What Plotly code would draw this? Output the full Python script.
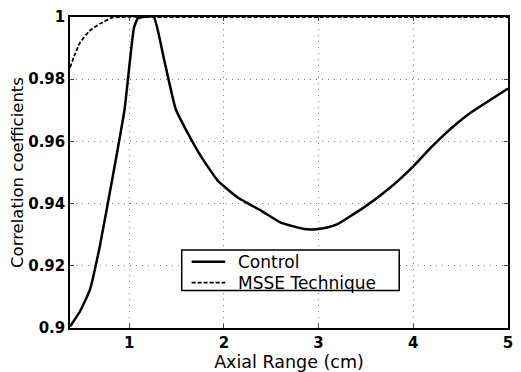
import plotly.graph_objects as go

# Correlation coefficient versus axial range
control_x = [0.375, 0.42, 0.48, 0.584, 0.688, 0.824, 0.95, 1.05, 1.09, 1.15, 1.26,
             1.368, 1.49, 1.63, 1.77, 1.94, 2.15, 2.40, 2.60, 2.85, 2.95, 3.09,
             3.20, 3.475, 3.75, 4.0, 4.17, 4.31, 4.45, 4.59, 5.0]
control_y = [0.9005, 0.9025, 0.9053, 0.9122, 0.926, 0.9483, 0.970, 0.9965, 0.9995, 1.0, 1.0,
             0.9864, 0.9705, 0.962, 0.9546, 0.9472, 0.9419, 0.9376, 0.9339, 0.9318, 0.9317, 0.9323,
             0.9334, 0.9387, 0.945, 0.952, 0.9575, 0.9617, 0.9655, 0.9689, 0.977]

msse_x = [0.375, 0.42, 0.48, 0.58, 0.69, 0.82, 0.95, 1.2, 2.0, 3.0, 4.0, 5.0]
msse_y = [0.9837, 0.9875, 0.9917, 0.9955, 0.9978, 0.9998, 1.0, 1.0, 1.0, 1.0, 1.0, 1.0]

x_ticks = [1, 2, 3, 4, 5]
y_ticks = [0.9, 0.92, 0.94, 0.96, 0.98, 1.0]
y_tick_text = ["0.9", "0.92", "0.94", "0.96", "0.98", "1"]

series_names = ["Control", "MSSE Technique"]

FAMILY = "DejaVu Sans, Verdana, sans-serif"
W, H = 521, 372
L, R, T, B = 70, 8, 17, 40
PW, PH = W - L - R, H - T - B


def px_x(p):
    """Pixel column -> paper x fraction."""
    return (p - L) / PW


def px_y(p):
    """Pixel row (from top) -> paper y fraction."""
    return (H - B - p) / PH


control_line = dict(color="black", width=2.5)
msse_line = dict(color="black", width=1.8, dash="4px,2px")

fig = go.Figure()
fig.add_trace(go.Scatter(x=control_x, y=control_y, mode="lines", name=series_names[0],
                         line=dict(**control_line, shape="spline", smoothing=0.4)))
fig.add_trace(go.Scatter(x=msse_x, y=msse_y, mode="lines", name=series_names[1],
                         line=dict(**msse_line, shape="spline", smoothing=0.5)))

# boxed legend in the lower middle of the axes
shapes = [
    dict(type="rect", xref="paper", yref="paper",
         x0=px_x(183), x1=px_x(403), y0=px_y(294), y1=px_y(253),
         line=dict(color="black", width=1.5), fillcolor="white", layer="above"),
    dict(type="line", xref="paper", yref="paper",
         x0=px_x(193), x1=px_x(227), y0=px_y(265), y1=px_y(265),
         line=control_line, layer="above"),
    dict(type="line", xref="paper", yref="paper",
         x0=px_x(193), x1=px_x(227), y0=px_y(286), y1=px_y(286),
         line=msse_line, layer="above"),
]
annotations = [
    dict(xref="paper", yref="paper", x=px_x(238), y=px_y(265), text=series_names[0],
         showarrow=False, xanchor="left", yanchor="middle",
         font=dict(family=FAMILY, size=17, color="black")),
    dict(xref="paper", yref="paper", x=px_x(238), y=px_y(286), text=series_names[1],
         showarrow=False, xanchor="left", yanchor="middle",
         font=dict(family=FAMILY, size=17, color="black")),
]

fig.update_layout(
    width=W, height=H,
    margin=dict(l=L, r=R, t=T, b=B),
    paper_bgcolor="white", plot_bgcolor="white",
    font=dict(family=FAMILY, size=16, color="black"),
    showlegend=False,
    shapes=shapes,
    annotations=annotations,
)
fig.update_xaxes(
    range=[0.375, 5.0], tickvals=x_ticks, ticks="inside", ticklen=4,
    showline=True, linecolor="black", linewidth=1.5, mirror="ticks",
    showgrid=True, gridcolor="#808080", griddash="1px,5px", gridwidth=1,
    zeroline=False, tickfont=dict(size=15, family=FAMILY, weight="bold"),
    title=dict(text="Axial Range (cm)", standoff=0,
               font=dict(size=17.5, family=FAMILY)),
)
fig.update_yaxes(
    range=[0.9, 1.0], tickvals=y_ticks, ticktext=y_tick_text, ticks="inside", ticklen=4,
    showline=True, linecolor="black", linewidth=1.5, mirror="ticks",
    showgrid=True, gridcolor="#808080", griddash="1px,5px", gridwidth=1,
    zeroline=False, tickfont=dict(size=15, family=FAMILY, weight="bold"),
    title=dict(text="Correlation coefficients", standoff=0,
               font=dict(size=16.5, family=FAMILY)),
)

fig.write_html("out.html")
